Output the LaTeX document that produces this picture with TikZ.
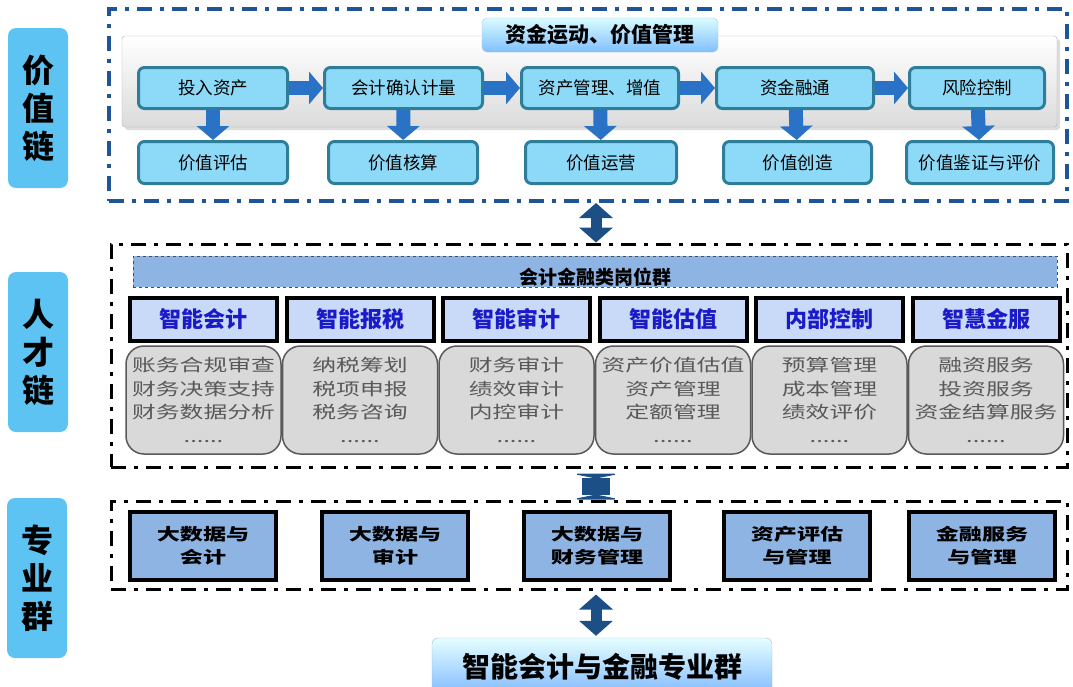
\documentclass[tikz,border=0pt]{standalone}
\usepackage{fontspec}
\setmainfont{Noto Sans CJK SC}
\newfontfamily\widefont[FakeStretch=1.4]{Noto Sans CJK SC}
\usetikzlibrary{arrows.meta,shadows}

\definecolor{labcol}{HTML}{5CC3F3}
\definecolor{cyanfill}{HTML}{8DDAF8}
\definecolor{tealcol}{HTML}{2E7E9A}
\definecolor{arrcol}{HTML}{2A72C6}
\definecolor{framecol}{HTML}{1F5597}
\definecolor{darkcol}{HTML}{1B4F86}
\definecolor{barfill}{HTML}{8EB4E3}
\definecolor{hdrfill}{HTML}{C9DAF8}
\definecolor{hdrtext}{HTML}{1A1AC8}

\tikzset{
  lab/.style={rounded corners=8pt, fill=labcol, minimum width=60pt, minimum height=160pt, align=center, font=\fontsize{32}{38}\selectfont\bfseries},
  vbox/.style={draw=tealcol, line width=3pt, rounded corners=6pt, fill=cyanfill, minimum height=41pt, font=\fontsize{17.5}{20}\selectfont},
  fatarr/.style={draw=arrcol, line width=14pt, -{Triangle[length=14pt,width=32pt]}},
  hdr/.style={draw=black, line width=4pt, fill=hdrfill, minimum width=147pt, minimum height=43pt, text=hdrtext, font=\fontsize{22}{24}\selectfont\bfseries},
  grybox/.style={draw=gray!70!black, line width=1.5pt, fill=gray!30, rounded corners=18pt, minimum width=155pt, minimum height=108pt, align=center, text=black!65, font=\widefont\fontsize{17}{23.5}\selectfont},
  mbox/.style={draw=black, line width=3.5pt, fill=barfill, minimum width=146pt, minimum height=68pt, align=center, font=\widefont\fontsize{16.5}{23}\selectfont\bfseries},
  dashdot/.style={line width=3pt, dash pattern=on 15pt off 8pt on 4pt off 8pt},
  dblarr/.style={draw=darkcol, line width=11pt, {Triangle[length=15pt,width=33pt]}-{Triangle[length=15pt,width=33pt]}},
  barrel/.style={draw=darkcol, line width=28pt, {Triangle[reversed,length=5pt,width=50pt]}-{Triangle[reversed,length=5pt,width=50pt]}}
}

\begin{document}
\begin{tikzpicture}[x=1pt,y=-1pt]

     \clip (0,0) rectangle (1073,686);

     \node[lab] (L1) at (38,108){价\\值\\链};
     \node[lab] (L2) at (38,352){人\\才\\链};
     \node[lab] (L3) at (37,578){专\\业\\群};

     \node[draw=framecol, dashdot, line width=4pt, minimum width=958pt, minimum height=192pt] (VC) at (588,105){};
     \node[draw=black, dashdot, minimum width=956pt, minimum height=223pt] (TC) at (589,355.5){};
     \node[draw=black, dashdot, minimum width=956pt, minimum height=88pt] (PG) at (589,545){};

     \node[draw=gray!60, rounded corners=3pt, top color=white, bottom color=gray!28, drop shadow={shadow xshift=3pt, shadow yshift=-3pt, fill=gray!55}, minimum width=935pt, minimum height=91pt] (GP) at (589.5,81.5){};
     \node[rounded corners=5pt, top color=blue!8!cyan!15, bottom color=cyan!50!blue!50, draw=cyan!40!blue!30, minimum width=236pt, minimum height=34pt, font=\fontsize{21}{24}\selectfont\bfseries] (TT) at (600,35){资金运动、价值管理};

     \node[vbox, minimum width=149pt] (V1) at (213,88){投入资产};
     \node[vbox, minimum width=158pt] (V2) at (403.5,88){会计确认计量};
     \node[vbox, minimum width=157pt] (V3) at (600,88){资产管理、增值};
     \node[vbox, minimum width=157pt] (V4) at (795,88){资金融通};
     \node[vbox, minimum width=135pt] (V5) at (977,88){风险控制};

     \node[vbox, minimum width=149pt, minimum height=42pt] (W1) at (213,162.5){价值评估};
     \node[vbox, minimum width=149pt, minimum height=42pt] (W2) at (403,162.5){价值核算};
     \node[vbox, minimum width=151pt, minimum height=42pt] (W3) at (601,162.5){价值运营};
     \node[vbox, minimum width=148pt, minimum height=42pt] (W4) at (797.5,162.5){价值创造};
     \node[vbox, minimum width=147pt, minimum height=42pt] (W5) at (980,162.5){价值鉴证与评价};

     \draw [fatarr] (V1) to (V2);
     \draw [fatarr] (V2) to (V3);
     \draw [fatarr] (V3) to (V4);
     \draw [fatarr] (V4) to (V5);

     \draw [fatarr] (V1) to (W1);
     \draw [fatarr] (V2) to (W2);
     \draw [fatarr] (V3) to (W3);
     \draw [fatarr] (V4) to (W4);
     \draw [fatarr] (V5) to (W5);

     \node[draw=black!70, dashed, line width=1pt, fill=barfill, minimum width=924pt, minimum height=31pt] (BB) at (595,271.5){};
     \node[font=\fontsize{19}{22}\selectfont\bfseries] (BT) at (595,277){会计金融类岗位群};

     \node[hdr] (H1) at (203.5,319.5){智能会计};
     \node[hdr] (H2) at (360,319.5){智能报税};
     \node[hdr] (H3) at (516.5,319.5){智能审计};
     \node[hdr] (H4) at (673,319.5){智能估值};
     \node[hdr] (H5) at (829.5,319.5){内部控制};
     \node[hdr] (H6) at (986,319.5){智慧金服};

     \node[grybox] (G1) at (203.5,400){账务合规审查\\财务决策支持\\财务数据分析\\......};
     \node[grybox] (G2) at (360,400){纳税筹划\\税项申报\\税务咨询\\......};
     \node[grybox] (G3) at (516.5,400){财务审计\\绩效审计\\内控审计\\......};
     \node[grybox] (G4) at (673,400){资产价值估值\\资产管理\\定额管理\\......};
     \node[grybox] (G5) at (829.5,400){预算管理\\成本管理\\绩效评价\\......};
     \node[grybox] (G6) at (986,400){融资服务\\投资服务\\资金结算服务\\......};

     \node[mbox] (M1) at (203,546){大数据与\\会计};
     \node[mbox] (M2) at (395,546){大数据与\\审计};
     \node[mbox] (M3) at (597,546){大数据与\\财务管理};
     \node[mbox] (M4) at (797,546){资产评估\\与管理};
     \node[mbox] (M5) at (982,546){金融服务\\与管理};

     \node[rounded corners=6pt, top color=cyan!10!white, bottom color=cyan!45!blue!50, draw=cyan!40!blue!35, minimum width=340pt, minimum height=58pt, font=\fontsize{28}{30}\selectfont\bfseries] (F) at (602,667){智能会计与金融专业群};

     \coordinate (ax) at (596,0);

     \draw [dblarr] (VC.south -| ax) to (TC.north -| ax);
     \draw [barrel, shorten <=5pt] (TC.south -| ax) to (PG.north -| ax);
     \draw [dblarr, shorten <=4pt, shorten >=2pt] (PG.south -| ax) to (F.north -| ax);

\end{tikzpicture}
\end{document}
